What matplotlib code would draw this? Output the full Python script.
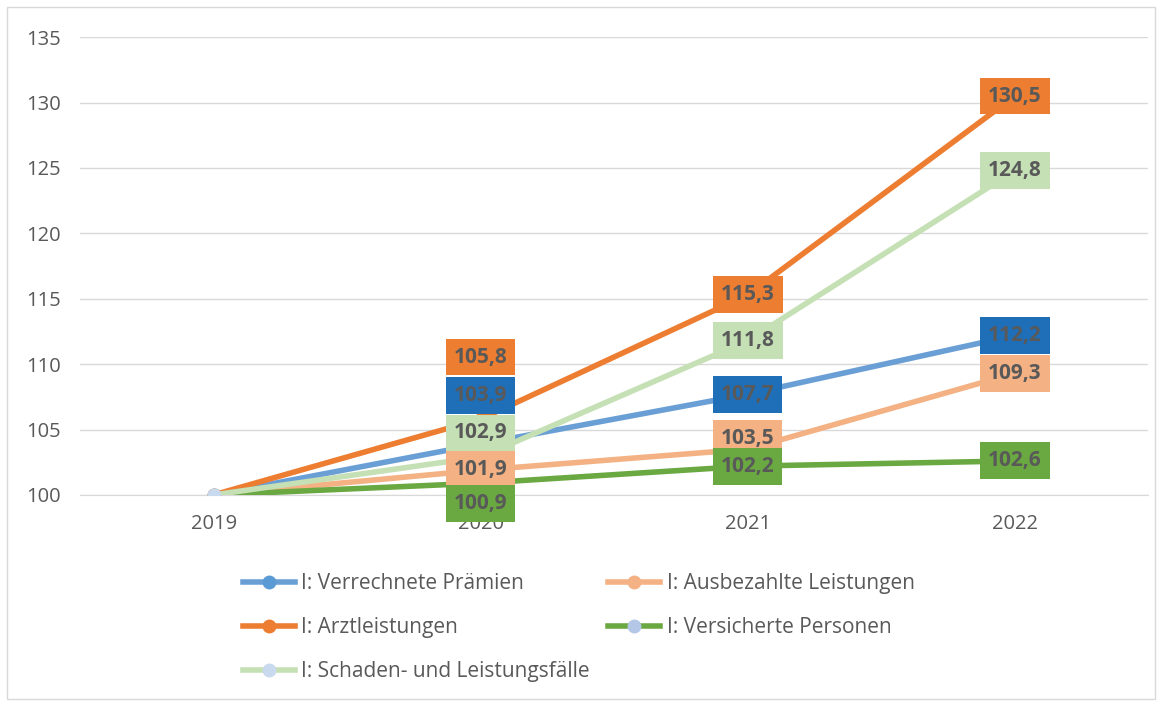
import matplotlib.pyplot as plt
from matplotlib.patches import Rectangle

years = ["2019", "2020", "2021", "2022"]

praemien = [100, 103.9, 107.7, 112.2]
ausbezahlt = [100, 101.9, 103.5, 109.3]
arzt = [100, 105.8, 115.3, 130.5]
personen = [100, 100.9, 102.2, 102.6]
schaden = [100, 102.9, 111.8, 124.8]

names = ["I: Verrechnete Prämien", "I: Ausbezahlte Leistungen", "I: Arztleistungen",
         "I: Versicherte Personen", "I: Schaden- und Leistungsfälle"]

# line colour, marker colour, label box colour
styles = [
    ("#6A9FD6", "#5B9BD5", "#1F6FB8"),
    ("#F4B183", "#F4B183", "#F4B183"),
    ("#ED7D31", "#ED7D31", "#ED7D31"),
    ("#6AA842", "#B4C7E7", "#6AA842"),
    ("#C5E0B4", "#C9D9EE", "#C5E0B4"),
]

# label shifts in pixels (Excel moved some labels to avoid overlap)
shifts = [
    [0, 48, 0, 0],
    [0, 1, 11, 0],
    [0, 62, 0, 0],
    [0, -20, 0, 0],
    [0, 24, 0, 0],
]

plt.rcParams['font.family'] = ['Open Sans', 'DejaVu Sans']
fig = plt.figure(figsize=(11.6, 7.02), dpi=100)
fig.patches.append(Rectangle((0.006, 0.004), 0.99, 0.986, transform=fig.transFigure,
                             fill=False, edgecolor="#D9D9D9", lw=1))
ax = fig.add_axes([0.069, 0.295, 0.921, 0.652])

x = range(len(years))
series = [praemien, ausbezahlt, arzt, personen, schaden]
lines = []
for vals, name, (lc, mc, bc), sh in zip(series, names, styles, shifts):
    ln, = ax.plot(x, vals, color=lc, lw=4, marker="o", ms=9, mfc=mc, mec=mc,
                  label=name, zorder=3)
    lines.append(ln)
for vals, (lc, mc, bc), sh in zip(series, styles, shifts):
    for i in range(1, len(vals)):
        ax.annotate(f"{vals[i]:.1f}".replace(".", ","), (i, vals[i]),
                    xytext=(0, sh[i] * 0.72), textcoords="offset points",
                    ha="center", va="center", fontsize=15, fontweight="bold",
                    color="#595959", zorder=5,
                    bbox=dict(boxstyle="square,pad=0.38", fc=bc, ec="none"))

ax.set_xlim(-0.5, 3.5)
ax.set_ylim(100, 135)
ax.set_yticks(range(100, 136, 5))
ax.set_xticks(list(x))
ax.set_xticklabels(years)
ax.grid(axis="y", color="#D9D9D9", lw=1)
ax.set_axisbelow(True)
for s in ax.spines.values():
    s.set_visible(False)
ax.spines["bottom"].set_visible(True)
ax.spines["bottom"].set_color("#D9D9D9")
ax.tick_params(length=0, labelsize=14.5, labelcolor="#595959", pad=14)
ax.tick_params(axis="y", pad=14)

order = [0, 2, 4, 1, 3]
fig.legend([lines[k] for k in order], [names[k] for k in order],
           loc="upper left", bbox_to_anchor=(0.193, 0.21), ncol=2,
           frameon=False, fontsize=15, labelcolor="#595959",
           handlelength=2.5, columnspacing=0.9, labelspacing=1.1,
           handletextpad=0.3)

fig.savefig("out.png", dpi=100)
